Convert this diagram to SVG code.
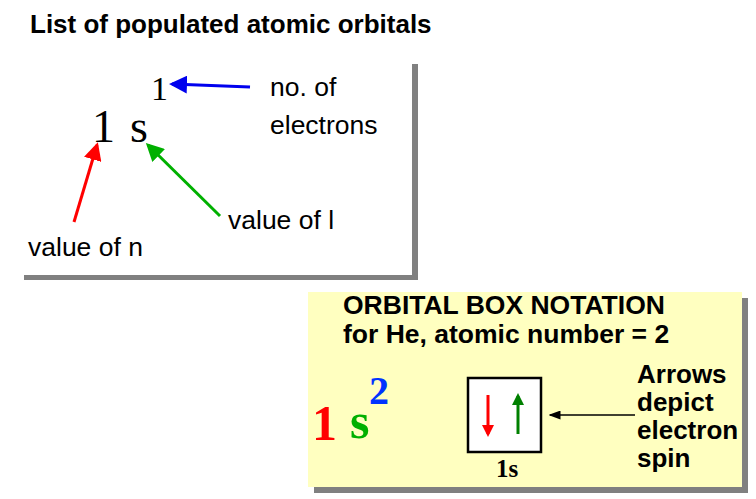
<svg xmlns="http://www.w3.org/2000/svg" width="756" height="499" viewBox="0 0 756 499">
<style>
.s{font-family:"Liberation Sans",Arial,sans-serif;font-size:26.5px;fill:#000}
.b{font-family:"Liberation Sans",Arial,sans-serif;font-weight:bold;fill:#000}
.r{font-family:"Liberation Serif","Times New Roman",serif;fill:#000}
</style>
<defs>
<marker id="mr" markerWidth="6" markerHeight="6" refX="5" refY="3" orient="auto" markerUnits="strokeWidth"><path d="M0,0 L6,3 L0,6 z" fill="#ff0000"/></marker>
<marker id="mg" markerWidth="6" markerHeight="6" refX="5" refY="3" orient="auto" markerUnits="strokeWidth"><path d="M0,0 L6,3 L0,6 z" fill="#00b000"/></marker>
<marker id="mb" markerWidth="6" markerHeight="6" refX="5" refY="3" orient="auto" markerUnits="strokeWidth"><path d="M0,0 L6,3 L0,6 z" fill="#0000ee"/></marker>
<marker id="mk" markerWidth="8" markerHeight="6" refX="7" refY="3" orient="auto" markerUnits="strokeWidth"><path d="M0,0 L8,3 L0,6 z" fill="#000"/></marker>
<marker id="mr2" markerWidth="4" markerHeight="4" refX="3" refY="2" orient="auto" markerUnits="strokeWidth"><path d="M0,0 L4,2 L0,4 z" fill="#ff0000"/></marker>
<marker id="mg2" markerWidth="4" markerHeight="4" refX="3" refY="2" orient="auto" markerUnits="strokeWidth"><path d="M0,0 L4,2 L0,4 z" fill="#008000"/></marker>
</defs>
<rect width="756" height="499" fill="#fff"/>
<text class="b" x="30" y="33" font-size="26">List of populated atomic orbitals</text>
<g id="panel1">
<rect x="24" y="64" width="394" height="216" fill="#808080"/>
<rect x="19" y="59" width="393" height="216" fill="#fff"/>
<text class="r" x="92" y="142" font-size="46">1</text>
<text class="r" x="130" y="142" font-size="46">s</text>
<text class="r" x="151" y="100" font-size="34">1</text>
<text class="s" x="270" y="96">no. of</text>
<text class="s" x="270" y="134">electrons</text>
<text class="s" x="228" y="229">value of l</text>
<text class="s" x="28" y="256">value of n</text>
</g>
<g id="panel2">
<rect x="314" y="298" width="434" height="195" fill="#808080"/>
<rect x="308" y="292" width="434" height="195" fill="#ffffc0"/>
<text class="b" x="343" y="314" font-size="26.5">ORBITAL BOX NOTATION</text>
<text class="b" x="343" y="343" font-size="26.5">for He, atomic number = 2</text>
<text class="r" x="312" y="440" font-size="50" font-weight="bold" style="fill:#ff0000">1</text>
<text class="r" x="350" y="438" font-size="50" font-weight="bold" style="fill:#00b000">s</text>
<text class="r" x="369" y="404" font-size="40" font-weight="bold" style="fill:#0033ff">2</text>
<rect x="468" y="378" width="73" height="74" fill="#fff" stroke="#000" stroke-width="2.5"/>
<text class="r" x="507" y="477" font-size="25" font-weight="bold" text-anchor="middle">1s</text>
<text class="b" x="637" y="383" font-size="26">Arrows</text>
<text class="b" x="637" y="411" font-size="26">depict</text>
<text class="b" x="637" y="439" font-size="26">electron</text>
<text class="b" x="637" y="467" font-size="26">spin</text>
</g>
<g id="connectors" fill="none">
<line x1="250" y1="87" x2="172" y2="84" stroke="#0000ee" stroke-width="3" marker-end="url(#mb)"/>
<line x1="74" y1="222" x2="97" y2="145" stroke="#ff0000" stroke-width="3" marker-end="url(#mr)"/>
<line x1="220" y1="216" x2="148" y2="145" stroke="#00b000" stroke-width="3" marker-end="url(#mg)"/>
<line x1="635" y1="415" x2="550" y2="415" stroke="#000" stroke-width="1.5" marker-end="url(#mk)"/>
<line x1="488" y1="395" x2="488" y2="434" stroke="#ff0000" stroke-width="3" marker-end="url(#mr2)"/>
<line x1="518" y1="434" x2="518" y2="396" stroke="#008000" stroke-width="3" marker-end="url(#mg2)"/>
</g>
</svg>
